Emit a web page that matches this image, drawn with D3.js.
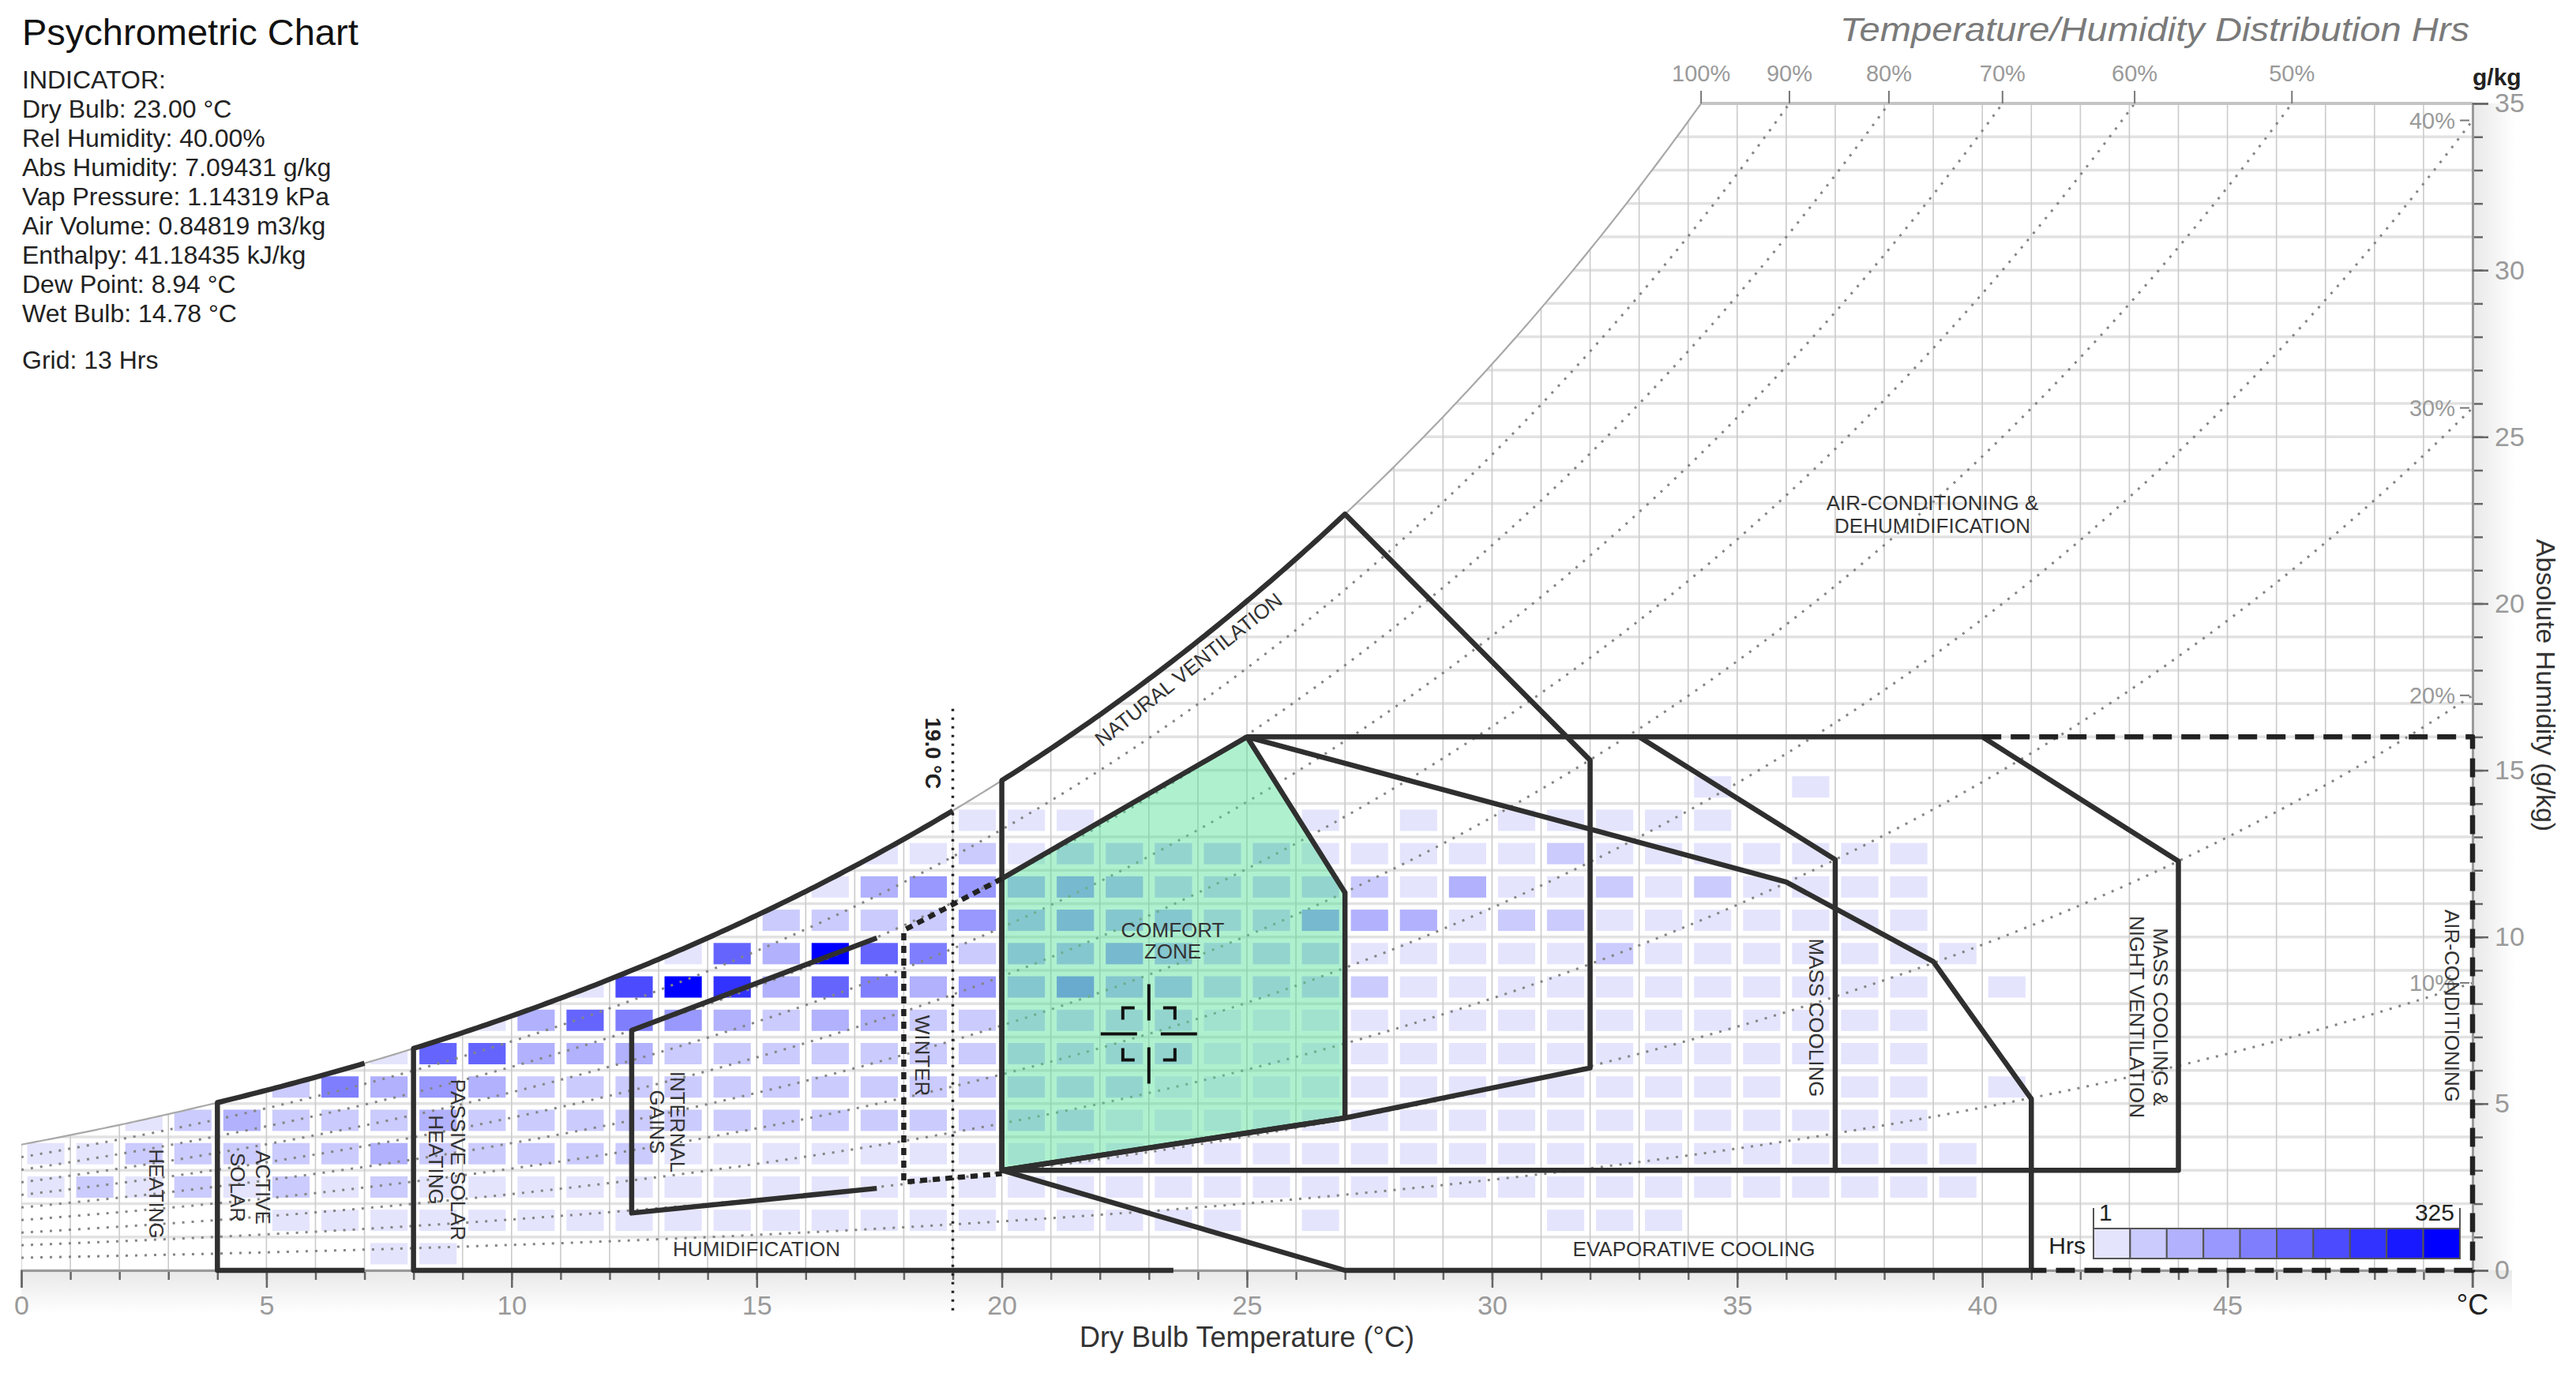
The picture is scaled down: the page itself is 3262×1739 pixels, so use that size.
<!DOCTYPE html>
<html>
<head>
<meta charset="utf-8">
<script src="https://cdn.jsdelivr.net/npm/d3@7"></script>
<style>
  body { margin: 0; background: #fff; }
  svg text { font-family: "Liberation Sans", Arial, sans-serif; }
  .narrow { font-family: "Liberation Sans Narrow", "Arial Narrow", "Liberation Sans", sans-serif; }
</style>
</head>
<body>
<div id="chart"></div>
<script>

// ---- data ----

// indicator readout (top left)
const indicatorLines = [
  "INDICATOR:",
  "Dry Bulb: 23.00 °C",
  "Rel Humidity: 40.00%",
  "Abs Humidity: 7.09431 g/kg",
  "Vap Pressure: 1.14319 kPa",
  "Air Volume: 0.84819 m3/kg",
  "Enthalpy: 41.18435 kJ/kg",
  "Dew Point: 8.94 °C",
  "Wet Bulb: 14.78 °C"
];
const gridNote = "Grid: 13 Hrs";
const indicatorPoint = [23.0, 7.09431];

// axes
const xTicks = d3.range(0, 50, 5);
const yTicks = d3.range(0, 36, 5);
const rhTopLevels = [1.0, 0.9, 0.8, 0.7, 0.6, 0.5];
const rhSideLevels = [0.4, 0.3, 0.2, 0.1];
const rhDotted = [0.1, 0.2, 0.3, 0.4, 0.5, 0.6, 0.7, 0.8, 0.9];

// hours per 1 °C x 1 g/kg cell, one array per humidity band, index = dry bulb °C (0..41)
const hrsW0  = [0,0,0,0,0,0,0,6,4,0, 0,0,0,0,0,0,0,0,0,0, 0,0,0,0,0,0,0,0,0,0, 0,0,0,0,0,0,0,0,0,0, 0,0];
const hrsW1  = [0,0,0,0,0,5,12,9,8,14, 12,15,11,13,10,12,14,11,9,10, 8,12,9,7,6,0,4,0,0,0, 0,3,5,3,0,0,0,0,0,0, 0,0];
const hrsW2  = [18,36,22,38,25,40,28,42,30,26, 24,28,25,27,22,24,26,23,21,24, 20,22,18,20,17,15,14,12,13,12, 11,12,10,9,8,7,6,5,4,3, 0,0];
const hrsW3  = [20,28,40,45,48,44,50,70,52,40, 38,40,36,30,32,28,30,29,27,26, 30,28,26,27,24,22,20,18,19,17, 16,15,14,12,11,10,8,7,6,4, 0,0];
const hrsW4  = [0,0,10,45,72,50,48,52,75,55, 50,48,52,46,44,42,45,40,38,36, 38,35,30,28,25,22,20,18,16,15, 14,13,12,10,9,8,7,5,4,0, 0,0];
const hrsW5  = [0,0,0,0,0,42,140,80,110,75, 55,50,52,48,50,46,44,42,40,42, 40,38,36,30,28,25,22,20,18,16, 15,12,10,9,8,6,0,4,3,0, 2,0];
const hrsW6  = [0,0,0,0,0,0,0,12,175,170, 85,80,72,55,50,48,52,46,44,45, 42,40,38,36,30,28,25,22,20,18, 16,14,13,12,10,9,7,5,4,0, 0,0];
const hrsW7  = [0,0,0,0,0,0,0,0,0,15, 85,180,150,110,78,55,72,70,50,48, 45,44,42,38,30,26,24,20,18,17, 15,14,12,11,10,8,6,5,3,0, 0,0];
const hrsW8  = [0,0,0,0,0,0,0,0,0,0, 0,18,210,318,240,85,185,150,90,100, 82,140,80,75,55,50,45,42,30,26, 24,22,20,18,15,13,10,8,6,0, 3,0];
const hrsW9  = [0,0,0,0,0,0,0,0,0,0, 0,0,0,20,175,80,325,180,145,55, 78,85,110,80,55,50,45,30,28,25, 24,26,40,22,20,18,15,12,10,5, 0,0];
const hrsW10 = [0,0,0,0,0,0,0,0,0,0, 0,0,0,0,0,45,50,48,52,105, 80,110,85,78,55,50,105,75,72,28, 40,38,25,22,20,18,15,12,8,0, 0,0];
const hrsW11 = [0,0,0,0,0,0,0,0,0,0, 0,0,0,0,0,0,20,75,105,100, 80,108,82,55,50,48,45,40,28,72, 25,24,40,22,38,18,15,12,8,0, 0,0];
const hrsW12 = [0,0,0,0,0,0,0,0,0,0, 0,0,0,0,0,0,0,10,25,45, 30,45,42,40,38,36,28,25,22,20, 22,38,18,16,14,12,10,8,5,0, 0,0];
const hrsW13 = [0,0,0,0,0,0,0,0,0,0, 0,0,0,0,0,0,0,0,0,10, 15,12,0,0,0,0,8,0,10,0, 9,12,10,8,6,0,0,0,0,0, 0,0];
const hrsW14 = [0,0,0,0,0,0,0,0,0,0, 0,0,0,0,0,0,0,0,0,0, 0,0,0,0,0,0,0,0,0,0, 0,0,0,0,5,0,4,0,0,0, 0,0];
const hourRows = [hrsW0, hrsW1, hrsW2, hrsW3, hrsW4, hrsW5, hrsW6, hrsW7, hrsW8,
                  hrsW9, hrsW10, hrsW11, hrsW12, hrsW13, hrsW14];
const hrsRange = [1, 325];

// design zones, [dry bulb °C, abs humidity g/kg]; null humidity = on the saturation curve
const activeSolarPts   = [[7, 0], [4, 0], [4, null], [7, null]];
const passiveSolarPts  = [[23.5, 0], [8, 0], [8, null], [19, null]];
const internalGainsPts = [[17.45, 2.46], [12.45, 1.72], [12.45, 7.2], [17.45, 9.97]];
const winterPts        = [[20, 11.75], [18, 10.2], [18, 2.65], [20, 2.9]];
const comfortPts       = [[20, 3], [20, 11.75], [25, 16], [27, 11.33], [27, 4.57], [20, 3]];
const natVentPts       = [[27, 4.57], [20, 3], [20, null], [27, null], [32, 15.3], [32, 6.07], [27, 4.57]];
const evapPts          = [[25, 16], [36, 11.65], [39, 9.26], [41, 5.14], [41, 0], [27, 0], [20, 3]];
const massCoolPts      = [[25, 16], [33, 16], [37, 12.32], [37, 3], [20, 3]];
const massNightPts     = [[33, 16], [40, 16], [44, 12.27], [44, 3], [37, 3]];
const airCondPts       = [[40, 16], [50, 16], [50, 0], [41, 0]];
const setPointPts      = [[19, -1.2], [19, 17]];

// ---- layout ----
const width = 3262, height = 1739;
const x = d3.scaleLinear().domain([0, 50]).range([27, 3131]);
const y = d3.scaleLinear().domain([0, 35]).range([1609, 131]);

// psychrometric relations (chart's own coordinate system)
function pws(t) { return 0.61078 * Math.exp(17.27 * t / (t + 237.3)); }
function wsat(t) { const p = pws(t); return 622 * p / (101.325 - p); }
function tAt(phi, w) {
  let lo = -10, hi = 80;
  for (let i = 0; i < 60; i++) { const m = (lo + hi) / 2; if (phi * wsat(m) < w) lo = m; else hi = m; }
  return (lo + hi) / 2;
}
function curvePts(phi, t0, t1) {
  return d3.range(t0, t1, 0.1).concat([t1]).map(t => [t, phi * wsat(t)]);
}
function expand(pts) {
  const out = [];
  pts.forEach((p, i) => {
    const prev = pts[i - 1];
    if (p[1] === null && prev && prev[1] === null) {
      curvePts(1, prev[0], p[0]).slice(1).forEach(q => out.push(q));
    } else {
      out.push([p[0], p[1] === null ? wsat(p[0]) : p[1]]);
    }
  });
  return out;
}

const line = d3.line().x(d => x(d[0])).y(d => y(d[1]));
const tTop = tAt(1, 35);

const svg = d3.select("#chart").append("svg")
  .attr("width", width).attr("height", height)
  .attr("viewBox", [0, 0, width, height]);
svg.append("rect").attr("width", width).attr("height", height).attr("fill", "#fff");

const defs = svg.append("defs");
defs.append("clipPath").attr("id", "satClip").append("path")
  .attr("d", line([[0, 0], ...curvePts(1, 0, tTop), [50, 35], [50, 0]]) + "Z");
defs.append("clipPath").attr("id", "plotClip").append("rect")
  .attr("x", x(0)).attr("y", y(35)).attr("width", x(50) - x(0)).attr("height", y(0) - y(35));

const gDown = defs.append("linearGradient").attr("id", "shadeDown")
  .attr("x1", 0).attr("y1", 0).attr("x2", 0).attr("y2", 1);
gDown.append("stop").attr("offset", 0).attr("stop-color", "#000").attr("stop-opacity", 0.09);
gDown.append("stop").attr("offset", 1).attr("stop-color", "#000").attr("stop-opacity", 0);
const gRight = defs.append("linearGradient").attr("id", "shadeRight")
  .attr("x1", 0).attr("y1", 0).attr("x2", 1).attr("y2", 0);
gRight.append("stop").attr("offset", 0).attr("stop-color", "#000").attr("stop-opacity", 0.09);
gRight.append("stop").attr("offset", 1).attr("stop-color", "#000").attr("stop-opacity", 0);

// soft shadow outside the axes
svg.append("rect").attr("x", x(0)).attr("y", y(0)).attr("width", x(50) - x(0) + 50).attr("height", 55)
  .attr("fill", "url(#shadeDown)");
svg.append("rect").attr("x", x(50)).attr("y", y(35)).attr("width", 55).attr("height", y(0) - y(35))
  .attr("fill", "url(#shadeRight)");

// grid under the saturation curve
const grid = svg.append("g").attr("clip-path", "url(#satClip)");
grid.selectAll(".hgrid").data(d3.range(0, 36)).enter().append("line")
  .attr("x1", x(0)).attr("x2", x(50)).attr("y1", d => y(d)).attr("y2", d => y(d))
  .attr("stroke", "#e2e2e2").attr("stroke-width", 3.5);
grid.selectAll(".vgrid").data(d3.range(0, 51)).enter().append("line")
  .attr("x1", d => x(d)).attr("x2", d => x(d)).attr("y1", y(0)).attr("y2", y(35))
  .attr("stroke", "#cbcbcb").attr("stroke-width", 1.6);

// hour cells
const legendColors = d3.range(10).map(i => d3.interpolateRgb("#e4e4fd", "#0000ff")(i / 9));
const hrsColor = d3.scaleQuantize().domain(hrsRange).range(legendColors);
const cells = [];
hourRows.forEach((row, h) => row.forEach((v, t) => { if (v > 0) cells.push({ t, h, v }); }));
grid.selectAll(".cell").data(cells).enter().append("rect")
  .attr("x", d => x(d.t + 0.12)).attr("width", d => x(d.t + 0.88) - x(d.t + 0.12))
  .attr("y", d => y(d.h + 0.82)).attr("height", d => y(d.h + 0.18) - y(d.h + 0.82))
  .attr("fill", d => hrsColor(d.v));

// relative humidity lines
const rhG = svg.append("g").attr("clip-path", "url(#plotClip)");
rhG.selectAll(".rh").data(rhDotted).enter().append("path")
  .attr("d", phi => line(curvePts(phi, 0, Math.min(50, tAt(phi, 35.5)))))
  .attr("fill", "none").attr("stroke", "#858585").attr("stroke-width", 3)
  .attr("stroke-dasharray", "3 9");
svg.append("path").attr("d", line(curvePts(1, 0, tTop)))
  .attr("fill", "none").attr("stroke", "#a8a8a8").attr("stroke-width", 2.2);
svg.append("line").attr("x1", x(tTop)).attr("x2", x(50)).attr("y1", y(35)).attr("y2", y(35))
  .attr("stroke", "#c4c4c4").attr("stroke-width", 4);

// comfort zone fill
svg.append("path").attr("d", line(comfortPts) + "Z")
  .attr("fill", "rgb(80,225,150)").attr("fill-opacity", 0.46);

// axes
const xMinor = svg.append("g").attr("transform", `translate(0,${y(0)})`)
  .call(d3.axisBottom(x).tickValues(d3.range(0, 51)).tickSize(12).tickFormat(""));
const xMajor = svg.append("g").attr("transform", `translate(0,${y(0)})`)
  .call(d3.axisBottom(x).tickValues(xTicks).tickSize(22));
const yMinor = svg.append("g").attr("transform", `translate(${x(50)},0)`)
  .call(d3.axisRight(y).tickValues(d3.range(0, 36)).tickSize(13).tickFormat(""));
const yMajor = svg.append("g").attr("transform", `translate(${x(50)},0)`)
  .call(d3.axisRight(y).tickValues(yTicks).tickSize(20).tickPadding(8));
[xMinor, xMajor, yMinor, yMajor].forEach(g => {
  g.select(".domain").attr("stroke", "#999").attr("stroke-width", 3);
  g.selectAll(".tick line").attr("stroke", "#666").attr("stroke-width", 2.5);
  g.selectAll("text").attr("class", "narrow").attr("font-size", 34).attr("fill", "#9a9a9a");
});
xMajor.selectAll("text").attr("y", 56).attr("dy", 0);

svg.append("line").attr("x1", x(50)).attr("x2", x(50)).attr("y1", y(0)).attr("y2", y(0) + 22)
  .attr("stroke", "#666").attr("stroke-width", 2.5);
svg.append("text").attr("class", "narrow").attr("x", x(50)).attr("y", 1665)
  .attr("text-anchor", "middle").attr("font-size", 36).attr("fill", "#222").text("°C");
svg.append("text").attr("x", x(50)).attr("y", 108)
  .attr("font-size", 30).attr("font-weight", "bold").attr("fill", "#222").text("g/kg");
svg.append("text").attr("class", "narrow").attr("x", x(25)).attr("y", 1706)
  .attr("text-anchor", "middle").attr("font-size", 36).attr("fill", "#333")
  .text("Dry Bulb Temperature (°C)");
svg.append("text").attr("class", "narrow")
  .attr("transform", `translate(3212,868) rotate(90)`)
  .attr("text-anchor", "middle").attr("font-size", 34).attr("fill", "#333")
  .text("Absolute Humidity (g/kg)");

// RH labels along the top and the right side
const rhTop = svg.append("g");
rhTopLevels.forEach(phi => {
  const tx = x(tAt(phi, 35));
  rhTop.append("line").attr("x1", tx).attr("x2", tx).attr("y1", y(35) - 16).attr("y2", y(35))
    .attr("stroke", "#777").attr("stroke-width", 2);
  rhTop.append("text").attr("class", "narrow").attr("x", tx).attr("y", 103)
    .attr("text-anchor", "middle").attr("font-size", 29).attr("fill", "#9a9a9a")
    .text(Math.round(phi * 100) + "%");
});
rhSideLevels.forEach(phi => {
  const ty = y(phi * wsat(50));
  rhTop.append("line").attr("x1", x(50) - 16).attr("x2", x(50) - 4).attr("y1", ty).attr("y2", ty)
    .attr("stroke", "#777").attr("stroke-width", 2);
  rhTop.append("text").attr("class", "narrow").attr("x", x(50) - 22).attr("y", ty + 10)
    .attr("text-anchor", "end").attr("font-size", 29).attr("fill", "#9a9a9a")
    .text(Math.round(phi * 100) + "%");
});

// zone outlines
const zones = svg.append("g").attr("fill", "none").attr("stroke", "#2f2f2f")
  .attr("stroke-linejoin", "round");
[activeSolarPts, passiveSolarPts, internalGainsPts, comfortPts, natVentPts,
 evapPts, massCoolPts, massNightPts].forEach(pts => {
  zones.append("path").attr("d", line(expand(pts))).attr("stroke-width", 6.5);
});
zones.append("path").attr("d", line(winterPts)).attr("stroke-width", 6.5)
  .attr("stroke-dasharray", "9 7").attr("stroke", "#222");
zones.append("path").attr("d", line(airCondPts)).attr("stroke-width", 6.5)
  .attr("stroke-dasharray", "24 12").attr("stroke", "#222");
zones.append("path").attr("d", line(setPointPts)).attr("stroke-width", 3.5)
  .attr("stroke-dasharray", "3 8").attr("stroke", "#222");

// zone labels
const labels = svg.append("g").attr("class", "narrow").attr("fill", "#333").attr("font-size", 26);
function hLabel(lines, cx, y0, gap) {
  const t = labels.append("text").attr("text-anchor", "middle");
  lines.forEach((s, i) => t.append("tspan").attr("x", cx).attr("y", y0 + i * gap).text(s));
}
function vLabel(lines, cx, cy, gap) {
  const n = lines.length;
  const t = labels.append("text").attr("text-anchor", "middle")
    .attr("transform", `translate(${cx},${cy}) rotate(90)`);
  lines.forEach((s, i) => t.append("tspan").attr("x", 0)
    .attr("y", (i - (n - 1) / 2) * gap).attr("dominant-baseline", "central").text(s));
}
hLabel(["COMFORT", "ZONE"], 1485, 1187, 27);
hLabel(["AIR-CONDITIONING &", "DEHUMIDIFICATION"], 2447, 646, 29);
hLabel(["EVAPORATIVE COOLING"], 2145, 1591, 0);
hLabel(["HUMIDIFICATION"], 958, 1591, 0);
vLabel(["HEATING"], 198, 1512, 0);
vLabel(["ACTIVE", "SOLAR"], 317, 1504, 32);
vLabel(["PASSIVE SOLAR", "HEATING"], 566, 1469, 28);
vLabel(["INTERNAL", "GAINS"], 845, 1421, 26);
vLabel(["WINTER"], 1168, 1337, 0);
vLabel(["MASS COOLING"], 2300, 1289, 0);
vLabel(["MASS COOLING &", "NIGHT VENTILATION"], 2721, 1288, 30);
vLabel(["AIR-CONDITIONING"], 3105, 1274, 0);
labels.append("text").attr("text-anchor", "middle").attr("dominant-baseline", "central")
  .attr("transform", "translate(1505,848) rotate(-38.5)").text("NATURAL VENTILATION");
svg.append("text").attr("transform", "translate(1181,954) rotate(90)")
  .attr("text-anchor", "middle").attr("dominant-baseline", "central")
  .attr("font-size", 27).attr("font-weight", "bold").attr("fill", "#222").text("19.0 °C");

// indicator crosshair
const ch = svg.append("g")
  .attr("transform", `translate(${x(indicatorPoint[0])},${y(indicatorPoint[1])})`)
  .attr("stroke", "#111").attr("stroke-width", 4).attr("fill", "none");
ch.append("path").attr("d", "M0,-63V-17M0,17V63M-61,0H-15M15,0H61");
ch.append("path").attr("d",
  "M-33,-18V-33H-18M18,-33H33V-18M33,18V33H18M-18,33H-33V18");

// legend
const lg = svg.append("g");
const lx = d3.scaleBand().domain(d3.range(10)).range([2651, 3115]);
lg.selectAll("rect").data(legendColors).enter().append("rect")
  .attr("x", (d, i) => lx(i)).attr("y", 1556).attr("width", lx.bandwidth()).attr("height", 38)
  .attr("fill", d => d).attr("stroke", "#555").attr("stroke-width", 2);
lg.append("path").attr("d", "M2651,1530V1556M3115,1530V1556")
  .attr("stroke", "#555").attr("stroke-width", 2);
lg.append("text").attr("class", "narrow").attr("x", 2658).attr("y", 1546)
  .attr("font-size", 30).attr("fill", "#222").text(hrsRange[0]);
lg.append("text").attr("class", "narrow").attr("x", 3108).attr("y", 1546)
  .attr("text-anchor", "end").attr("font-size", 30).attr("fill", "#222").text(hrsRange[1]);
lg.append("text").attr("class", "narrow").attr("x", 2641).attr("y", 1588)
  .attr("text-anchor", "end").attr("font-size", 30).attr("fill", "#222").text("Hrs");

// titles and indicator readout
svg.append("text").attr("x", 28).attr("y", 57).attr("font-size", 47).attr("fill", "#111")
  .text("Psychrometric Chart");
svg.append("text").attr("x", 3127).attr("y", 52).attr("text-anchor", "end")
  .attr("font-size", 42).attr("font-style", "italic").attr("fill", "#7a7a7a")
  .attr("textLength", 797).attr("lengthAdjust", "spacingAndGlyphs")
  .text("Temperature/Humidity Distribution Hrs");
const info = svg.append("text").attr("font-size", 32).attr("fill", "#222");
indicatorLines.forEach((s, i) => info.append("tspan").attr("x", 28).attr("y", 112 + i * 37).text(s));
svg.append("text").attr("x", 28).attr("y", 467).attr("font-size", 32).attr("fill", "#222")
  .text(gridNote);

</script>
</body>
</html>
